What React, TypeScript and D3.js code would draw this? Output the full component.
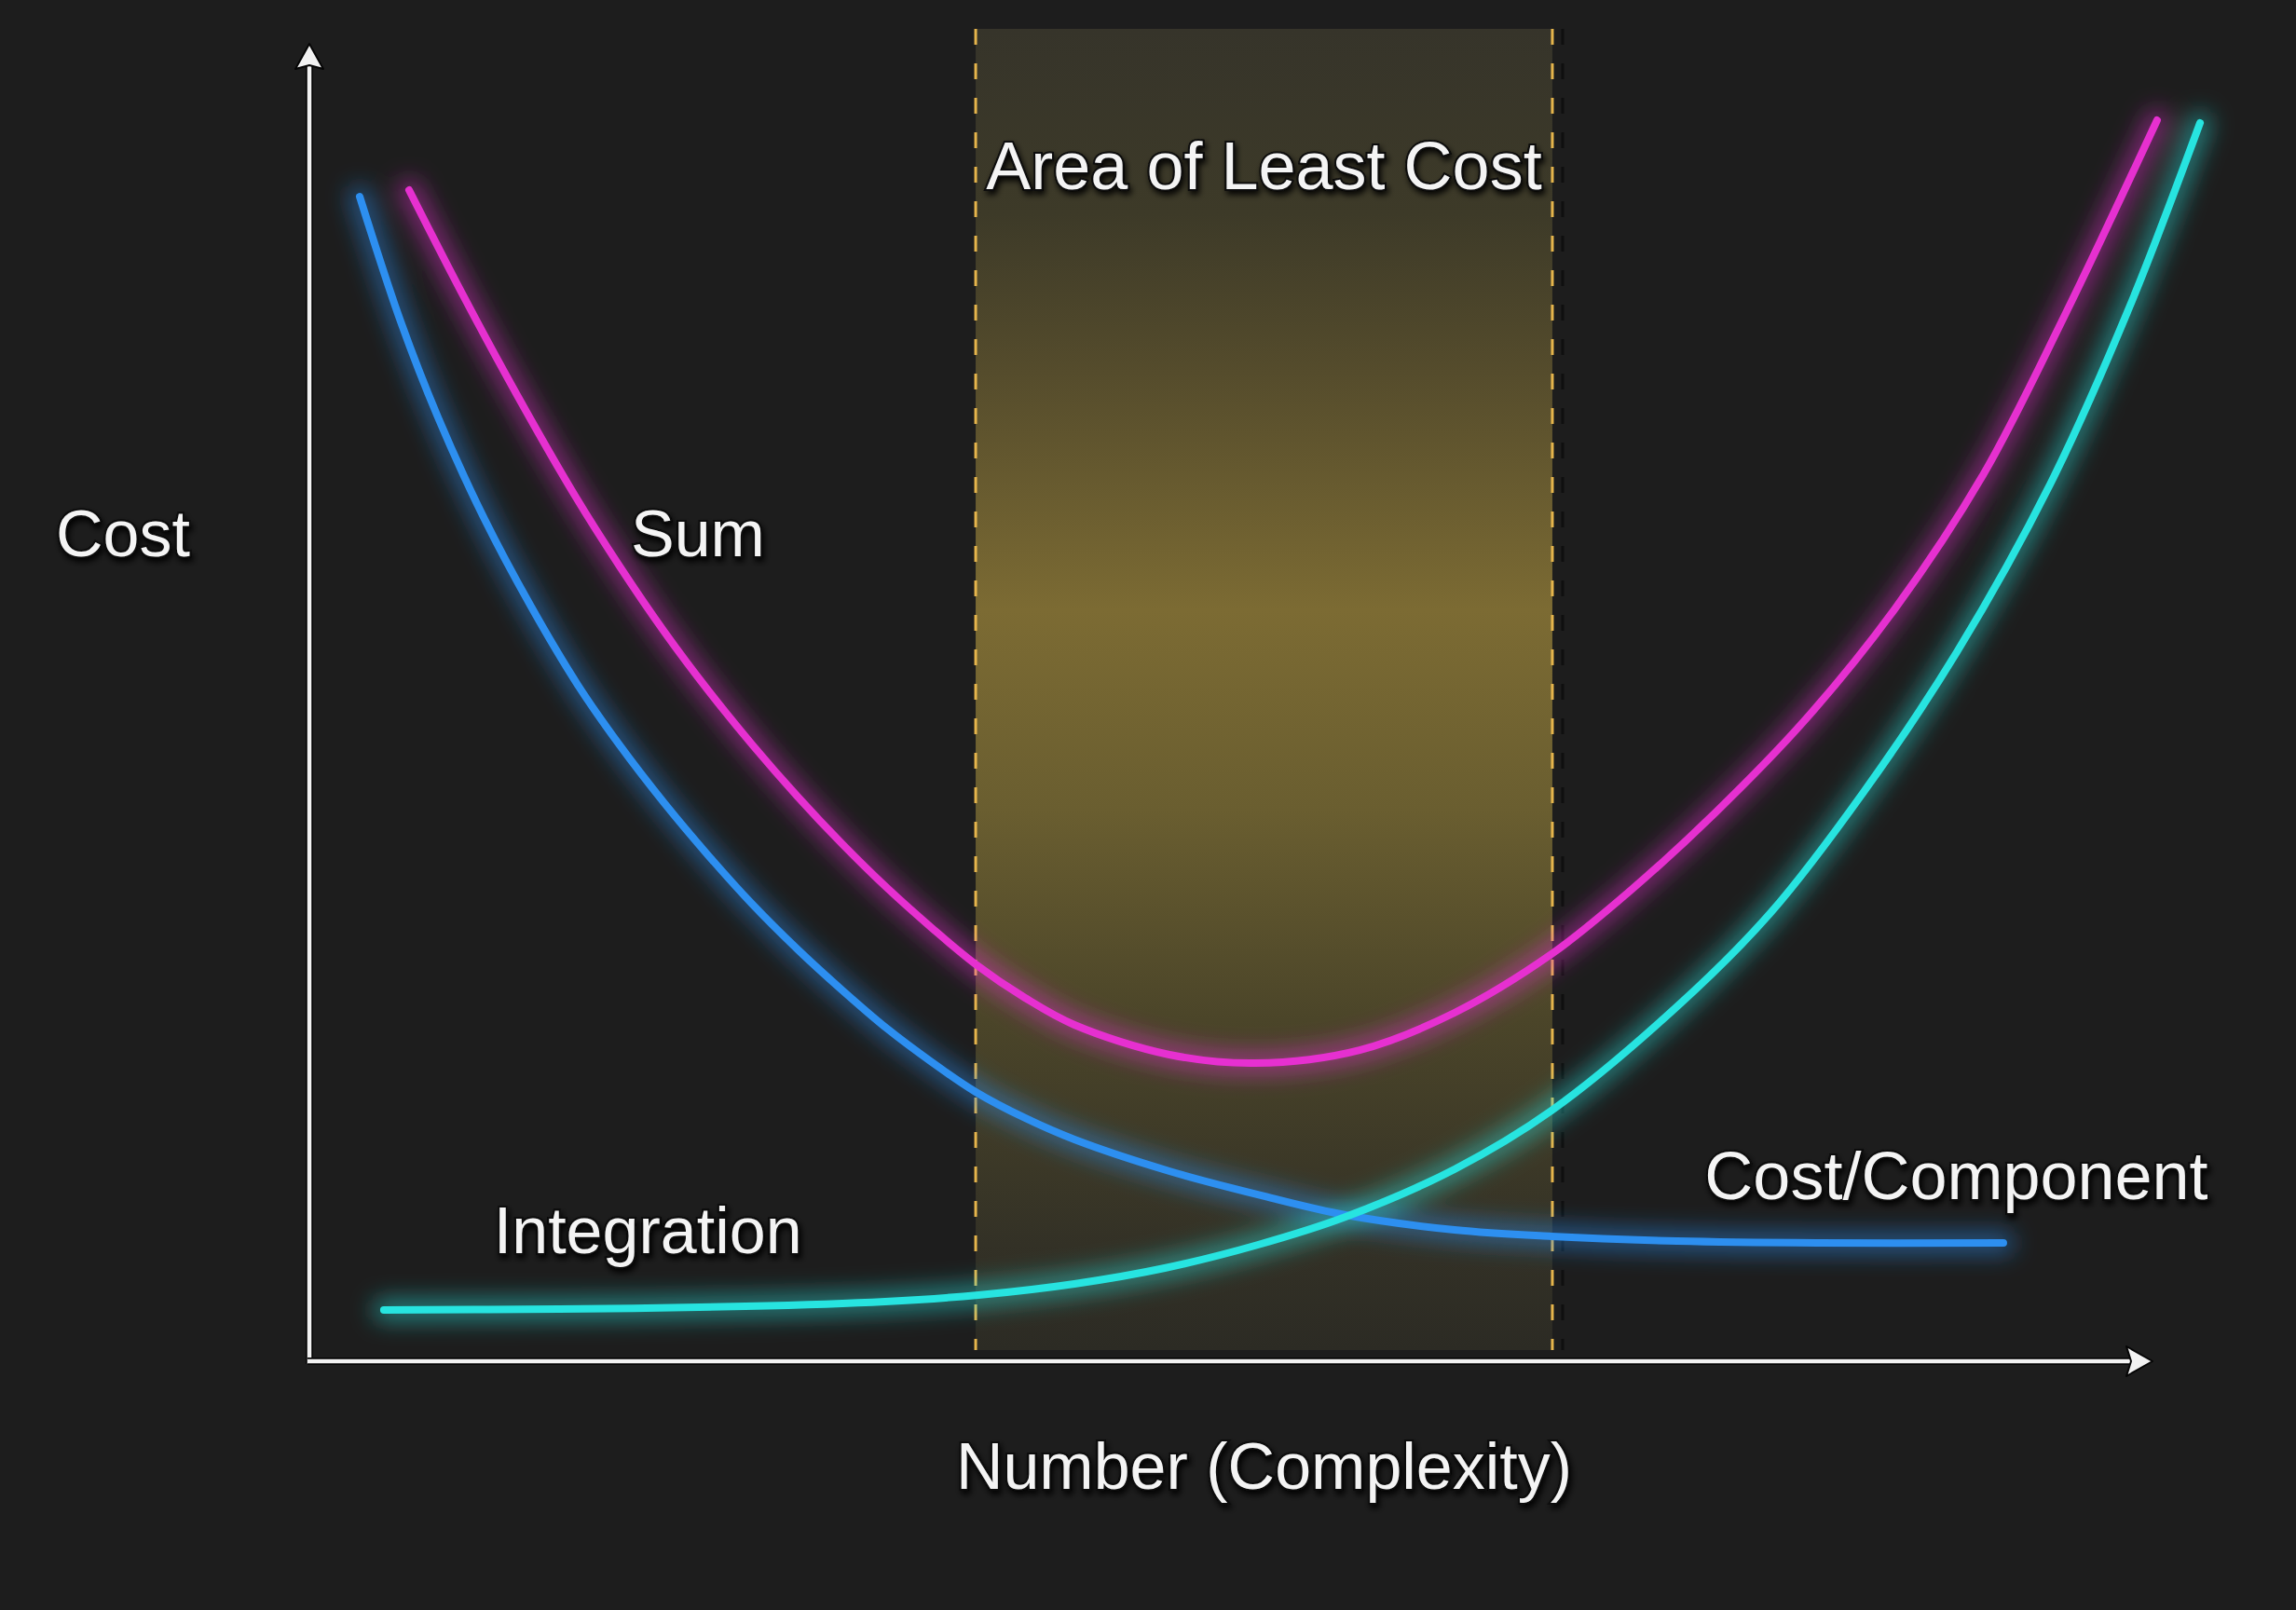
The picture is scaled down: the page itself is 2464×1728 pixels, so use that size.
import * as d3 from "d3";
import { useEffect, useRef } from "react";

const WIDTH = 2464;
const HEIGHT = 1728;

// Curves. x = number (complexity), y = cost, both on a 0..100 scale.
const costPerComponent: [number, number][] = [
  [2.73, 88.4], [4.95, 78.93], [6.98, 71.64], [9.5, 63.93], [12.03, 57.28],
  [14.56, 51.34], [16.84, 46.75], [19.26, 42.36], [21.64, 38.4], [24.06, 34.65],
  [26.49, 31.26], [28.92, 28.15], [31.34, 25.25], [33.77, 22.7], [36.15, 20.44],
  [38.83, 18.46], [41.51, 16.83], [46.66, 14.43], [51.82, 12.52], [56.22, 11.1],
  [62.13, 9.97], [67.39, 9.48], [74.22, 9.12], [81.8, 8.98], [91.91, 8.98],
];

const integration: [number, number][] = [
  [4.04, 3.89], [13.55, 3.96], [23.66, 4.17], [31.24, 4.53], [36.3, 5.02],
  [41.51, 5.87], [46.41, 7.07], [51.47, 8.84], [56.22, 10.96], [62.13, 14.57],
  [67.39, 19.02], [74.22, 26.94], [79.27, 34.02], [84.33, 43.21], [89.38, 53.82],
  [94.44, 66.55], [98.74, 79.98], [102.58, 93.99],
];

const sum: [number, number][] = [
  [5.41, 88.9], [8.34, 80.91], [11.27, 73.34], [14.41, 65.7], [16.84, 60.33],
  [19.26, 55.37], [21.64, 50.92], [24.06, 46.75], [26.49, 42.86], [28.92, 39.25],
  [31.34, 35.93], [33.77, 32.89], [36.15, 30.13], [38.83, 27.58], [41.51, 25.53],
  [46.66, 23.27], [51.31, 22.63], [56.98, 23.62], [62.13, 26.45], [67.39, 30.9],
  [71.49, 35.5], [76.29, 41.65], [81.14, 48.66], [86.0, 57.07], [90.8, 67.26],
  [95.2, 79.28], [100.25, 94.2],
];

const leastCostRange: [number, number] = [36.15, 67.44];

const seriesNames = ["Cost/Component", "Integration", "Sum"];
const seriesColors = ["#2d8ff0", "#27e4e0", "#e630d0"];
const bandTitle = "Area of Least Cost";
const xAxisTitle = "Number (Complexity)";
const yAxisTitle = "Cost";

const FONT = "'Liberation Sans', Arial, sans-serif";

export default function App() {
  const svgRef = useRef<SVGSVGElement>(null);

  useEffect(() => {
    const svg = d3.select(svgRef.current);
    svg.selectAll("*").remove();

    const x = d3.scaleLinear().domain([0, 100]).range([332, 2310]);
    const y = d3.scaleLinear().domain([0, 100]).range([1461, 47]);

    const defs = svg.append("defs");

    const glow = defs
      .append("filter")
      .attr("id", "glow")
      .attr("filterUnits", "userSpaceOnUse")
      .attr("x", 0)
      .attr("y", 0)
      .attr("width", WIDTH)
      .attr("height", HEIGHT);
    glow.append("feGaussianBlur").attr("stdDeviation", 12);

    const shadow = defs
      .append("filter")
      .attr("id", "textShadow")
      .attr("x", "-10%")
      .attr("y", "-30%")
      .attr("width", "120%")
      .attr("height", "160%");
    shadow
      .append("feDropShadow")
      .attr("dx", 2)
      .attr("dy", 4)
      .attr("stdDeviation", 3)
      .attr("flood-color", "#000")
      .attr("flood-opacity", 0.9);

    const grad = defs
      .append("linearGradient")
      .attr("id", "bandFill")
      .attr("x1", 0)
      .attr("y1", 0)
      .attr("x2", 0)
      .attr("y2", 1);
    [
      [0, "#36342a"],
      [0.14, "#3d3a28"],
      [0.26, "#554c2c"],
      [0.44, "#7c6b33"],
      [0.59, "#6a5e30"],
      [0.75, "#4b4529"],
      [0.92, "#333126"],
      [1, "#2c2b24"],
    ].forEach(([o, c]) => grad.append("stop").attr("offset", o).attr("stop-color", c));

    // Background
    svg.append("rect").attr("width", WIDTH).attr("height", HEIGHT).attr("fill", "#1d1d1d");

    // Area of least cost band
    const bandTop = y(100) - 16;
    const bandBottom = y(0) - 12;
    svg
      .append("rect")
      .attr("x", x(leastCostRange[0]))
      .attr("width", x(leastCostRange[1]) - x(leastCostRange[0]))
      .attr("y", bandTop)
      .attr("height", bandBottom - bandTop)
      .attr("fill", "url(#bandFill)");

    leastCostRange.forEach((v, i) => {
      if (i === 1) {
        svg
          .append("line")
          .attr("x1", x(v) + 11)
          .attr("x2", x(v) + 11)
          .attr("y1", bandTop)
          .attr("y2", bandBottom)
          .attr("stroke", "#0c0c0c")
          .attr("stroke-width", 3)
          .attr("stroke-dasharray", "17 20")
          .attr("opacity", 0.8);
      }
      svg
        .append("line")
        .attr("x1", x(v))
        .attr("x2", x(v))
        .attr("y1", bandTop)
        .attr("y2", bandBottom)
        .attr("stroke", "#e6b54c")
        .attr("stroke-width", 3)
        .attr("stroke-dasharray", "17 20");
    });

    // Curves
    const line = d3
      .line<[number, number]>()
      .x((d) => x(d[0]))
      .y((d) => y(d[1]))
      .curve(d3.curveCatmullRom.alpha(0.5));

    const curves = [costPerComponent, integration, sum];
    const glowLayer = svg.append("g").attr("filter", "url(#glow)");
    curves.forEach((data, i) => {
      glowLayer
        .append("path")
        .attr("d", line(data))
        .attr("fill", "none")
        .attr("stroke", seriesColors[i])
        .attr("stroke-width", 24)
        .attr("stroke-linecap", "round")
        .attr("opacity", 0.5);
    });
    curves.forEach((data, i) => {
      svg
        .append("path")
        .attr("d", line(data))
        .attr("fill", "none")
        .attr("stroke", seriesColors[i])
        .attr("stroke-width", 8)
        .attr("stroke-linecap", "round")
        .attr("aria-label", seriesNames[i]);
    });

    // Axes with arrow heads
    const ox = x(0);
    const oy = y(0);
    const xEnd = x(100);
    const yEnd = y(100);
    const axes = svg.append("g");
    [
      [ox, oy + 3, ox, yEnd + 20],
      [ox - 2, oy, xEnd - 20, oy],
    ].forEach(([x1, y1, x2, y2]) => {
      axes
        .append("line")
        .attr("x1", x1).attr("y1", y1).attr("x2", x2).attr("y2", y2)
        .attr("stroke", "#050505")
        .attr("stroke-width", 8);
      axes
        .append("line")
        .attr("x1", x1).attr("y1", y1).attr("x2", x2).attr("y2", y2)
        .attr("stroke", "#f2f2f2")
        .attr("stroke-width", 4.5);
    });
    const arrowUp = `M${ox},${yEnd} L${ox + 15},${yEnd + 27} L${ox},${yEnd + 23} L${ox - 15},${yEnd + 27} Z`;
    const arrowRight = `M${xEnd},${oy} L${xEnd - 28},${oy - 16} L${xEnd - 23},${oy} L${xEnd - 28},${oy + 16} Z`;
    [arrowUp, arrowRight].forEach((d) => {
      axes
        .append("path")
        .attr("d", d)
        .attr("fill", "#f2f2f2")
        .attr("stroke", "#050505")
        .attr("stroke-width", 2)
        .attr("stroke-linejoin", "round");
    });

    // Text labels
    const addText = (
      txt: string,
      tx: number,
      ty: number,
      size: number,
      anchor: "start" | "middle" = "start"
    ) => {
      svg
        .append("text")
        .attr("x", tx)
        .attr("y", ty)
        .attr("text-anchor", anchor)
        .attr("font-family", FONT)
        .attr("font-size", size)
        .attr("fill", "#f4f4f4")
        .attr("stroke", "#0a0a0a")
        .attr("stroke-width", 4)
        .attr("paint-order", "stroke")
        .attr("filter", "url(#textShadow)")
        .text(txt);
    };

    const bandMid = (x(leastCostRange[0]) + x(leastCostRange[1])) / 2;
    addText(bandTitle, bandMid, y(89), 72, "middle");
    addText(seriesNames[2], x(17.44), y(61.1), 70);
    addText(seriesNames[1], x(10.0), y(8.2), 70);
    addText(seriesNames[0], x(75.7), y(12.3), 72);
    addText(yAxisTitle, ox - 272, y(61.1), 70);
    addText(xAxisTitle, bandMid, oy + 137, 70, "middle");
  }, []);

  return (
    <svg
      ref={svgRef}
      width={WIDTH}
      height={HEIGHT}
      style={{ position: "absolute", left: 0, top: 0, display: "block" }}
    />
  );
}
